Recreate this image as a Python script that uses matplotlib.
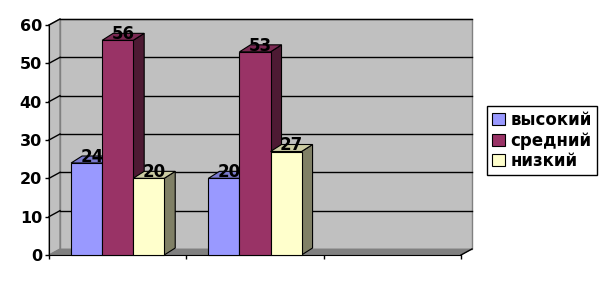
import matplotlib
matplotlib.use('Agg')
import matplotlib.pyplot as plt
from matplotlib.patches import Polygon, Patch, Rectangle

# ---- data ----
n_categories = 3                      # third category slot is empty
series_names = ['высокий', 'средний', 'низкий']
high = [24, 20]
mid = [56, 53]
low = [20, 27]
yticks = [0, 10, 20, 30, 40, 50, 60]

front_colors = ['#9999ff', '#993366', '#ffffcc']
top_colors = ['#7a7acc', '#7a2952', '#cccca3']
side_colors = ['#4d4d80', '#4d1a33', '#808066']

W, H = 606, 282
fig = plt.figure(figsize=(W / 100, H / 100), dpi=100)
L, R, B, T = 49, 461, 255, 25
ax = fig.add_axes([L / W, (H - B) / H, (R - L) / W, (B - T) / H])
ymax = yticks[-1]
ax.set_xlim(0, n_categories)
ax.set_ylim(0, ymax)

px_x = n_categories / (R - L)
px_y = ymax / (B - T)
wdx, wdy = 11 * px_x, 6 * px_y
bdx, bdy = 11 * px_x, 7 * px_y

# walls & floor
back = Polygon([(wdx, wdy), (n_categories + wdx, wdy), (n_categories + wdx, ymax + wdy), (wdx, ymax + wdy)],
               closed=True, facecolor='#c0c0c0', edgecolor='#808080', lw=1, zorder=0, clip_on=False)
left = Polygon([(0, 0), (0, ymax), (wdx, ymax + wdy), (wdx, wdy)],
               closed=True, facecolor='#c0c0c0', edgecolor='#808080', lw=1, zorder=0, clip_on=False)
floor = Polygon([(0, 0), (n_categories, 0), (n_categories + wdx, wdy), (wdx, wdy)],
                closed=True, facecolor='#808080', edgecolor='#808080', lw=0.5, zorder=0.2, clip_on=False)
for p in (back, left, floor):
    ax.add_patch(p)

for v in yticks[1:]:
    ax.plot([wdx, n_categories + wdx], [v + wdy, v + wdy], color='black', lw=1, zorder=0.5, clip_on=False)
    ax.plot([0, wdx], [v, v + wdy], color='black', lw=1, zorder=0.5, clip_on=False)
ax.plot([n_categories, n_categories + wdx], [0, wdy], color='black', lw=1, zorder=0.6, clip_on=False)

# bars
series = [high, mid, low]
w = 0.226
start = (1 - 3 * w) / 2
for c in range(len(high)):
    for s, vals in enumerate(series):
        v = vals[c]
        x = c + start + s * w
        side = Polygon([(x + w, 0), (x + w + bdx, bdy), (x + w + bdx, v + bdy), (x + w, v)],
                       closed=True, facecolor=side_colors[s], edgecolor='black', lw=0.8, zorder=2 + s, clip_on=False)
        top = Polygon([(x, v), (x + w, v), (x + w + bdx, v + bdy), (x + bdx, v + bdy)],
                      closed=True, facecolor=top_colors[s], edgecolor='black', lw=0.8, zorder=2 + s, clip_on=False)
        front = Rectangle((x, 0), w, v, facecolor=front_colors[s], edgecolor='black', lw=0.8,
                          zorder=2 + s, clip_on=False)
        ax.add_patch(side)
        ax.add_patch(top)
        ax.add_patch(front)
for c in range(len(high)):
    for s, vals in enumerate(series):
        v = vals[c]
        x = c + start + s * w
        ax.text(x + w / 2 + bdx / 2, v + 0.3, str(v), ha='center', va='baseline',
                fontsize=12, fontweight='bold', color='black', zorder=10)

# axes styling
for sp in ('top', 'right'):
    ax.spines[sp].set_visible(False)
ax.spines['left'].set_color('black')
ax.spines['bottom'].set_color('black')
ax.spines['left'].set_zorder(1)
ax.spines['bottom'].set_zorder(1)
ax.set_yticks(yticks)
ax.set_yticklabels([str(t) for t in yticks], fontsize=11.5, fontweight='bold')
ax.set_xticks(range(n_categories + 1))
ax.set_xticklabels([])
ax.tick_params(axis='both', direction='out', length=3, width=1, color='black', pad=2)
ax.patch.set_visible(False)

handles = [Patch(facecolor=front_colors[i], edgecolor='black', lw=0.8, label=series_names[i]) for i in range(3)]
leg = fig.legend(handles=handles, loc='upper left', bbox_to_anchor=(487 / W, 1 - 106 / H),
                 frameon=True, fancybox=False, edgecolor='black', framealpha=1,
                 prop={'size': 12, 'weight': 'bold'}, handlelength=0.75, handleheight=0.75,
                 handletextpad=0.35, labelspacing=0.15, borderpad=0.3, borderaxespad=0)
leg.get_frame().set_linewidth(1)

fig.savefig('out.png', dpi=100)
